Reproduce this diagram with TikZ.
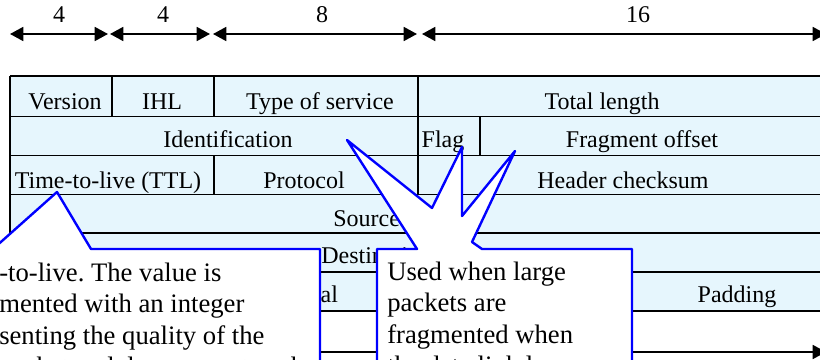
\documentclass[tikz,border=0pt]{standalone}
\usepackage{fontspec}
\setmainfont{Liberation Serif}
\usetikzlibrary{arrows.meta}
\definecolor{cellblue}{RGB}{230,246,253}
\definecolor{calloutblue}{RGB}{0,0,255}
\frenchspacing

\begin{document}
\begin{tikzpicture}[x=0.75pt,y=-0.75pt,
  gridline/.style={line width=1.25pt,black},
  field/.style={font=\fontsize{18}{20}\selectfont,inner sep=0pt,anchor=base},
  fieldw/.style={font=\fontsize{18}{20}\selectfont,inner sep=0pt,anchor=base west},
  bits/.style={font=\fontsize{18}{20}\selectfont,inner sep=0pt,anchor=base},
  note/.style={font=\fontsize{20}{23}\selectfont,inner sep=0pt,anchor=base west},
  dimline/.style={line width=1.3pt,{Triangle[length=10pt,width=10.5pt]}-{Triangle[length=10pt,width=10.5pt]}},
  callout/.style={fill=white,draw=calloutblue,line width=1.8pt,line join=round}]
\useasboundingbox (0,0) rectangle (820,360);
\clip (0,0) rectangle (820,360);

% ---- bit widths above the header ----
\coordinate (a0) at (10,34);  \coordinate (a1) at (108,34);
\coordinate (b0) at (110,34); \coordinate (b1) at (210,34);
\coordinate (c0) at (213,34); \coordinate (c1) at (417,34);
\coordinate (d0) at (422,34); \coordinate (d1) at (826,34);
\draw[dimline] (a0) -- (a1);
\draw[dimline] (b0) -- (b1);
\draw[dimline] (c0) -- (c1);
\draw[dimline] (d0) -- (d1);
\node[bits] (w1) at (59,23) {4};
\node[bits] (w2) at (163,23) {4};
\node[bits] (w3) at (322,23) {8};
\node[bits] (w4) at (638,23) {16};

% ---- header table ----
\fill[cellblue] (10,76) rectangle (826,311);
\foreach \y in {76,116.5,155.5,194.5,233,272,311}
  \draw[gridline] (10,\y) -- (826,\y);
\draw[gridline] (10,76) -- (10,311);
\draw[gridline] (826,76) -- (826,311);
\draw[gridline] (112,76) -- (112,116.5);
\draw[gridline] (214,76) -- (214,116.5);
\draw[gridline] (214,155.5) -- (214,194.5);
\draw[gridline] (418,76) -- (418,194.5);
\draw[gridline] (480,116.5) -- (480,155.5);
\draw[gridline] (622,272) -- (622,311);

\node[field] (ver)   at (65,109)  {Version};
\node[field] (ihl)   at (162,109) {IHL};
\node[field] (tos)   at (320,109) {Type of service};
\node[field] (len)   at (602,109) {Total length};
\node[field] (ident) at (228,147) {Identification};
\node[field] (flag)  at (443,147) {Flag};
\node[field] (frag)  at (642,147) {Fragment offset};
\node[field] (ttl)   at (108,188) {Time-to-live (TTL)};
\node[field] (proto) at (304,188) {Protocol};
\node[field] (chk)   at (623,188) {Header checksum};
\node[fieldw] (src)  at (333,226) {Source address};
\node[fieldw] (dst)  at (321,263) {Destination address};
\node[field] (opt)   at (296,302) {Optional};
\node[field] (pad)   at (737,302) {Padding};

% total width below the header
\coordinate (t0) at (10,352); \coordinate (t1) at (826,352);
\draw[dimline] (t0) -- (t1);

% ---- callout on the TTL field ----
\draw[callout] (-300,249) -- (-7,249) -- (57,192) -- (91,249) -- (320,249)
  -- (320,400) -- (-300,400) -- cycle;
\node[note] (n1) at (-1,281) {-to-live. The value is};
\node[note] (n2) at (-1,312) {mented with an integer};
\node[note] (n3) at (-1,344) {senting the quality of the};
\node[note] (n4) at (-1,375) {packet and decreases at each};

% ---- callout on the fragmentation fields ----
\draw[callout] (377,249) -- (417,249) -- (347,140) -- (432,208) -- (462,147)
  -- (462,216) -- (515,151) -- (472,242) -- (482,249) -- (632,249)
  -- (632,400) -- (377,400) -- cycle;
\node[note] (m1) at (387,280) {Used when large};
\node[note] (m2) at (387,311) {packets are};
\node[note] (m3) at (387,343) {fragmented when};
\node[note] (m4) at (387,374) {the data link layer};
\end{tikzpicture}
\end{document}
